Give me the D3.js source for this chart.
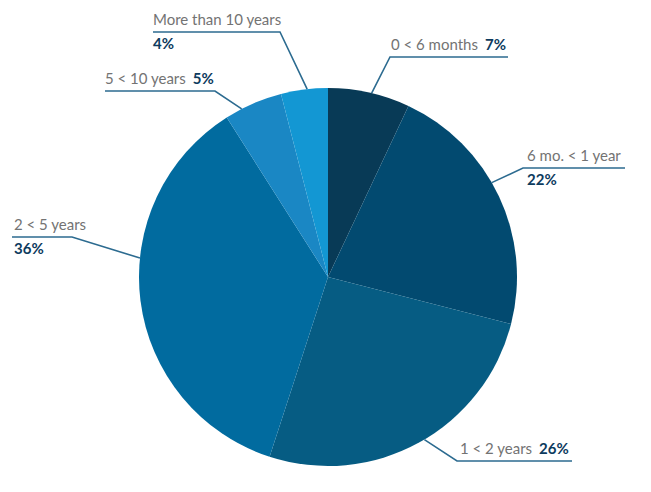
<!DOCTYPE html>
<html>
<head>
<meta charset="utf-8">
<script src="https://cdn.jsdelivr.net/npm/d3@7"></script>
<style>
  body { margin: 0; background: #fff; }
  svg { display: block; }
</style>
</head>
<body>
<div id="chart"></div>
<script>
const categories = ['0 < 6 months', '6 mo. < 1 year', '1 < 2 years', '2 < 5 years', '5 < 10 years', 'More than 10 years'];
const shares = [7, 22, 26, 36, 5, 4];
const sliceColors = ['#083a56', '#024a70', '#065c83', '#016b9f', '#1a87c4', '#1397d3'];

// label layout: where the leader leaves the slice (t within the slice), elbow, text block
const labelLayout = [
  { t: 0.53, elbow: [390, 57], lineTo: 508, tx: 391, mode: 'inline' },
  { t: 0.44, elbow: [523, 168], lineTo: 625, tx: 527, mode: 'stacked' },
  { t: 0.48, elbow: [457, 461], lineTo: 572, tx: 460, mode: 'inline' },
  { t: 0.60, elbow: [72, 237], lineTo: 12, tx: 14, mode: 'stacked' },
  { t: 0.29, elbow: [215, 91], lineTo: 105, tx: 105, mode: 'inline' },
  { t: 0.56, elbow: [280, 32], lineTo: 153, tx: 153, mode: 'stacked' }
];

const width = 651, height = 492;
const cx = 328, cy = 277, radius = 189;

const svg = d3.select('#chart').append('svg')
  .attr('width', width)
  .attr('height', height);

const data = categories.map((c, i) => ({ name: c, value: shares[i], color: sliceColors[i], layout: labelLayout[i] }));

const pie = d3.pie().value(d => d.value).sort(null);
const arc = d3.arc().innerRadius(0).outerRadius(radius);
const arcs = pie(data);

const g = svg.append('g').attr('transform', `translate(${cx}, ${cy})`);

g.selectAll('path')
  .data(arcs)
  .enter()
  .append('path')
    .attr('d', arc)
    .attr('fill', d => d.data.color);

const lineColor = '#2c6b90';
const labels = svg.append('g');

arcs.forEach(d => {
  const L = d.data.layout;
  const a = d.startAngle + L.t * (d.endAngle - d.startAngle);
  const px = cx + radius * Math.sin(a);
  const py = cy - radius * Math.cos(a);

  labels.append('polyline')
    .attr('points', `${px},${py} ${L.elbow[0]},${L.elbow[1]} ${L.lineTo},${L.elbow[1]}`)
    .attr('fill', 'none')
    .attr('stroke', lineColor)
    .attr('stroke-width', 1.6);

  const txt = labels.append('text')
    .attr('x', L.tx)
    .attr('y', L.elbow[1] - 7)
    .attr('font-family', 'Lato, sans-serif')
    .attr('font-size', '15px');

  txt.append('tspan')
    .attr('fill', '#737373')
    .text(d.data.name);

  if (L.mode === 'inline') {
    txt.append('tspan')
      .attr('dx', 7)
      .attr('fill', '#0d3b5e')
      .attr('font-weight', 'bold')
      .text(d.data.value + '%');
  } else {
    labels.append('text')
      .attr('x', L.tx)
      .attr('y', L.elbow[1] + 17)
      .attr('font-family', 'Lato, sans-serif')
      .attr('font-size', '15px')
      .attr('font-weight', 'bold')
      .attr('fill', '#0d3b5e')
      .text(d.data.value + '%');
  }
});
</script>
</body>
</html>
